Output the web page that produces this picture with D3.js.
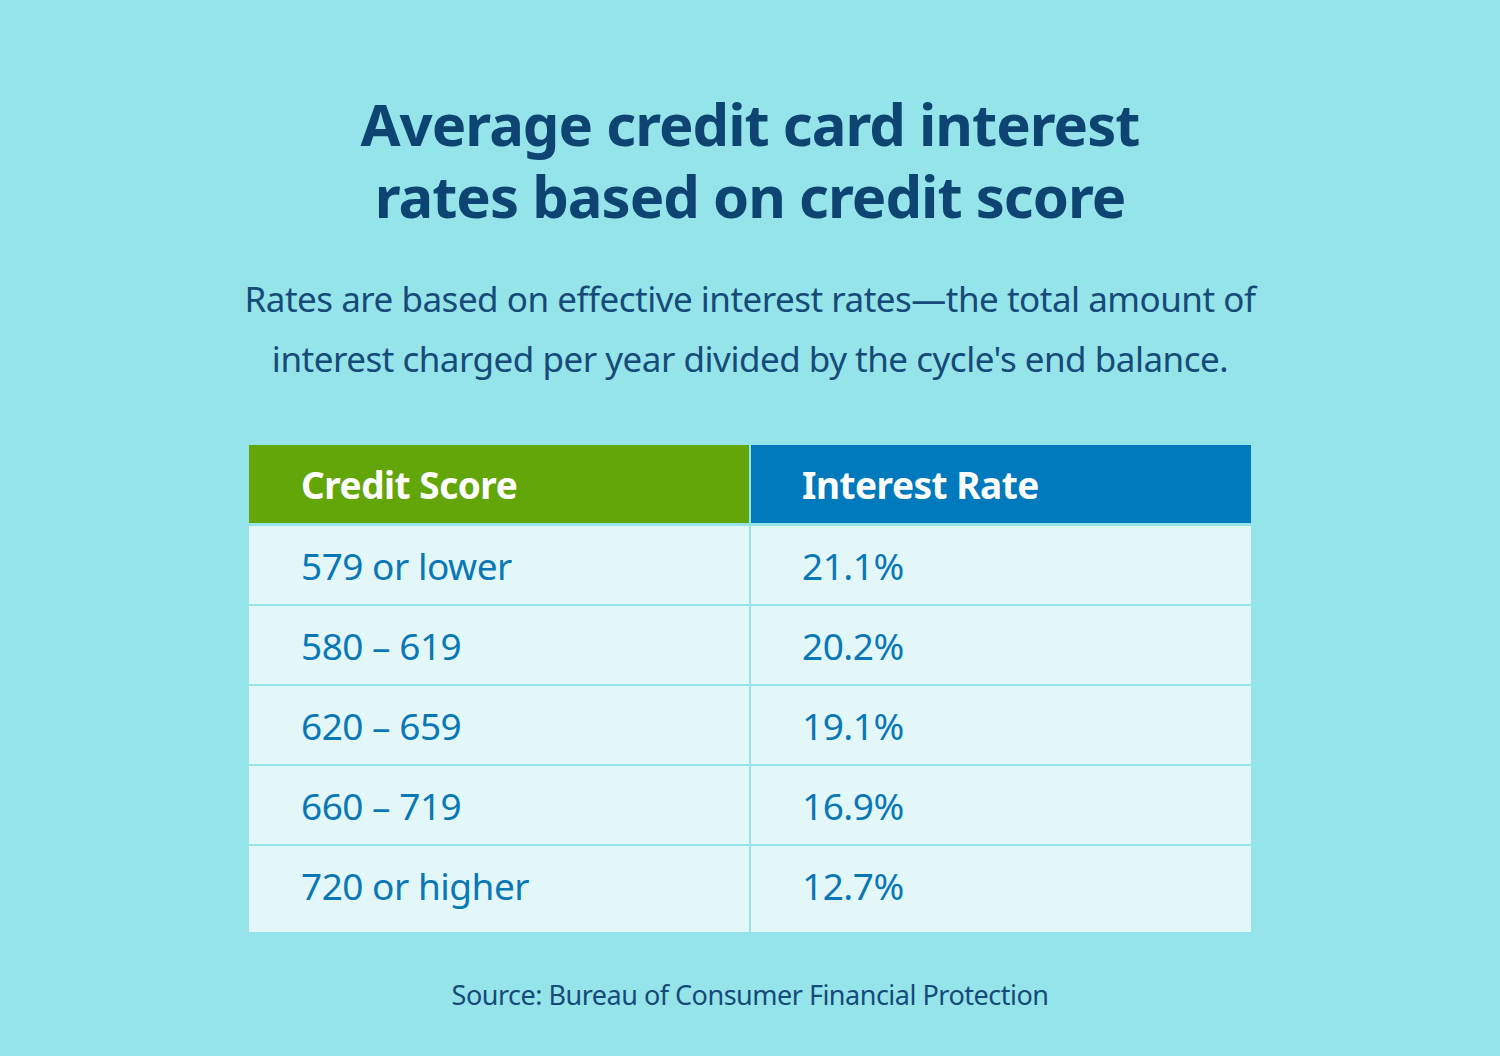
<!DOCTYPE html><html><head><meta charset="utf-8">
<script src="https://cdn.jsdelivr.net/npm/d3@7"></script>
<style>body{margin:0;background:#95e4e9}</style></head><body>
<script>
const headers = ["Credit Score","Interest Rate"];
const scores = ["579 or lower","580 – 619","620 – 659","660 – 719","720 or higher"];
const rates = ["21.1%","20.2%","19.1%","16.9%","12.7%"];
const titleLines = ["Average credit card interest","rates based on credit score"];
const subLines = ["Rates are based on effective interest rates—the total amount of","interest charged per year divided by the cycle's end balance."];
const source = "Source: Bureau of Consumer Financial Protection";

const W=1500,H=1056,F="'Noto Sans', sans-serif";
const svg=d3.select("body").append("svg").attr("width",W).attr("height",H);
svg.append("rect").attr("width",W).attr("height",H).attr("fill","#95e4e9");
svg.selectAll(".t").data(titleLines).join("text").attr("x",750).attr("y",(d,i)=>146+i*72)
 .attr("text-anchor","middle").attr("font-family",F).attr("font-weight",700).attr("font-size",58)
 .attr("fill","#0d4471").attr("letter-spacing",-1).text(d=>d);
svg.selectAll(".s").data(subLines).join("text").attr("x",750).attr("y",(d,i)=>312+i*60)
 .attr("text-anchor","middle").attr("font-family",F).attr("font-size",35)
 .attr("fill","#164a78").attr("letter-spacing",-0.5).text(d=>d);

const x=d3.scaleBand().domain([0,1]).range([249,1251]);
const y=d3.scaleBand().domain(d3.range(scores.length)).range([525,925]);
const colFill=["#62a60a","#007abd"];
headers.forEach((h,c)=>{
  svg.append("rect").attr("x",x(c)+(c?1:0)).attr("y",445).attr("width",x.bandwidth()-1).attr("height",78).attr("fill",colFill[c]);
  svg.append("text").attr("x",x(c)+52).attr("y",499).attr("font-family",F).attr("font-weight",700)
   .attr("font-size",37).attr("fill","#fff").attr("letter-spacing",-0.5).text(h);
});
[scores,rates].forEach((col,c)=>{
  svg.selectAll(".c"+c).data(col).join("rect").attr("x",x(c)+(c?1:0))
   .attr("y",(d,i)=>y(i)+1).attr("width",x.bandwidth()-1)
   .attr("height",(d,i)=>i===col.length-1?y.bandwidth()+6:y.bandwidth()-2).attr("fill","#e3f7f9");
  svg.selectAll(".v"+c).data(col).join("text").attr("x",x(c)+52).attr("y",(d,i)=>y(i)+55)
   .attr("font-family",F).attr("font-size",37).attr("fill","#0a77b6").attr("letter-spacing",-0.5).text(d=>d);
});
svg.append("text").attr("x",750).attr("y",1005).attr("text-anchor","middle").attr("font-family",F)
 .attr("font-size",27).attr("fill","#164a78").attr("letter-spacing",-0.5).text(source);
</script></body></html>
